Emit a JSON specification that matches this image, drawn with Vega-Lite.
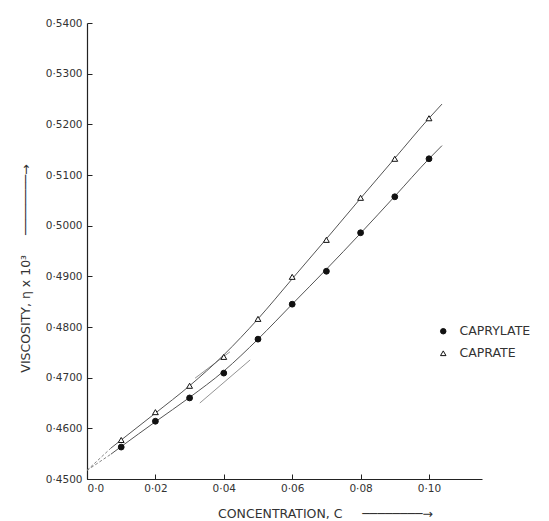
{
  "$schema": "https://vega.github.io/schema/vega-lite/v6.json",
  "width": 395,
  "height": 456,
  "autosize": "none",
  "padding": {"left": 87, "top": 23, "right": 67, "bottom": 42},
  "background": "white",
  "config": {
    "view": {"stroke": null},
    "font": "DejaVu Sans",
    "axis": {
      "grid": false,
      "domainColor": "#222",
      "domainWidth": 1.2,
      "tickColor": "#222",
      "labelColor": "#333",
      "titleColor": "#333",
      "labelFont": "DejaVu Sans",
      "titleFont": "DejaVu Sans",
      "labelFontSize": 10.5,
      "titleFontSize": 12.5,
      "titleFontWeight": "normal"
    }
  },
  "datasets": {
    "points": [
      {"series": "CAPRATE", "c": 0.01, "v": 0.4577},
      {"series": "CAPRATE", "c": 0.02, "v": 0.4632},
      {"series": "CAPRATE", "c": 0.03, "v": 0.4684},
      {"series": "CAPRATE", "c": 0.04, "v": 0.4741},
      {"series": "CAPRATE", "c": 0.05, "v": 0.4816},
      {"series": "CAPRATE", "c": 0.06, "v": 0.4899},
      {"series": "CAPRATE", "c": 0.07, "v": 0.4972},
      {"series": "CAPRATE", "c": 0.08, "v": 0.5055},
      {"series": "CAPRATE", "c": 0.09, "v": 0.5132},
      {"series": "CAPRATE", "c": 0.10, "v": 0.5212},
      {"series": "CAPRYLATE", "c": 0.01, "v": 0.4563},
      {"series": "CAPRYLATE", "c": 0.02, "v": 0.4614},
      {"series": "CAPRYLATE", "c": 0.03, "v": 0.4660},
      {"series": "CAPRYLATE", "c": 0.04, "v": 0.4709},
      {"series": "CAPRYLATE", "c": 0.05, "v": 0.4776},
      {"series": "CAPRYLATE", "c": 0.06, "v": 0.4845},
      {"series": "CAPRYLATE", "c": 0.07, "v": 0.4910},
      {"series": "CAPRYLATE", "c": 0.08, "v": 0.4986},
      {"series": "CAPRYLATE", "c": 0.09, "v": 0.5057},
      {"series": "CAPRYLATE", "c": 0.10, "v": 0.5132}
    ],
    "curves": [
      {"series": "CAPRATE", "c": 0.007, "v": 0.4561},
      {"series": "CAPRATE", "c": 0.01, "v": 0.4577},
      {"series": "CAPRATE", "c": 0.02, "v": 0.4630},
      {"series": "CAPRATE", "c": 0.03, "v": 0.4684},
      {"series": "CAPRATE", "c": 0.04, "v": 0.4745},
      {"series": "CAPRATE", "c": 0.05, "v": 0.4816},
      {"series": "CAPRATE", "c": 0.06, "v": 0.4895},
      {"series": "CAPRATE", "c": 0.07, "v": 0.4974},
      {"series": "CAPRATE", "c": 0.08, "v": 0.5054},
      {"series": "CAPRATE", "c": 0.09, "v": 0.5133},
      {"series": "CAPRATE", "c": 0.10, "v": 0.5212},
      {"series": "CAPRATE", "c": 0.1038, "v": 0.5240},
      {"series": "CAPRYLATE", "c": 0.007, "v": 0.4549},
      {"series": "CAPRYLATE", "c": 0.01, "v": 0.4564},
      {"series": "CAPRYLATE", "c": 0.02, "v": 0.4613},
      {"series": "CAPRYLATE", "c": 0.03, "v": 0.4661},
      {"series": "CAPRYLATE", "c": 0.04, "v": 0.4713},
      {"series": "CAPRYLATE", "c": 0.05, "v": 0.4776},
      {"series": "CAPRYLATE", "c": 0.06, "v": 0.4845},
      {"series": "CAPRYLATE", "c": 0.07, "v": 0.4914},
      {"series": "CAPRYLATE", "c": 0.08, "v": 0.4985},
      {"series": "CAPRYLATE", "c": 0.09, "v": 0.5058},
      {"series": "CAPRYLATE", "c": 0.10, "v": 0.5132},
      {"series": "CAPRYLATE", "c": 0.1038, "v": 0.5158}
    ],
    "dashed": [
      {"series": "CAPRATE", "c": 0.0, "v": 0.4517},
      {"series": "CAPRATE", "c": 0.007, "v": 0.4561},
      {"series": "CAPRYLATE", "c": 0.0, "v": 0.4517},
      {"series": "CAPRYLATE", "c": 0.007, "v": 0.4549}
    ],
    "tangents": [
      {"id": "t1", "c": 0.033, "v": 0.4650},
      {"id": "t1", "c": 0.0477, "v": 0.4735},
      {"id": "t2", "c": 0.0316, "v": 0.4699},
      {"id": "t2", "c": 0.0418, "v": 0.4751}
    ]
  },
  "encoding": {
    "x": {
      "field": "c",
      "type": "quantitative",
      "scale": {"domain": [0, 0.1155], "nice": false, "zero": false},
      "axis": {
        "values": [0, 0.02, 0.04, 0.06, 0.08, 0.10],
        "labelExpr": "datum.value == 0 ? '0·0' : '0·' + substring(format(datum.value, '.2f'), 2)",
        "tickSize": -5,
        "labelPadding": 9,
        "title": "CONCENTRATION, C\u00a0\u00a0\u00a0\u00a0\u00a0────────→",
        "titleX": 238,
        "titleY": 34,
        "titleAlign": "center",
        "titleBaseline": "middle"
      }
    },
    "y": {
      "field": "v",
      "type": "quantitative",
      "scale": {"domain": [0.45, 0.54], "nice": false, "zero": false},
      "axis": {
        "values": [0.45, 0.46, 0.47, 0.48, 0.49, 0.50, 0.51, 0.52, 0.53, 0.54],
        "labelExpr": "'0·' + substring(format(datum.value, '.4f'), 2)",
        "tickSize": -5,
        "labelPadding": 10,
        "title": "VISCOSITY, η x 10³\u00a0\u00a0\u00a0\u00a0\u00a0────────→",
        "titleX": -62,
        "titleY": 245,
        "titleAlign": "center",
        "titleBaseline": "middle",
        "titleAngle": -90
      }
    }
  },
  "layer": [
    {
      "data": {"name": "tangents"},
      "mark": {"type": "line", "color": "#777", "strokeWidth": 0.8},
      "encoding": {"detail": {"field": "id"}}
    },
    {
      "data": {"name": "dashed"},
      "mark": {"type": "line", "color": "#777", "strokeWidth": 0.9, "strokeDash": [3, 2]},
      "encoding": {"detail": {"field": "series"}}
    },
    {
      "data": {"name": "curves"},
      "mark": {"type": "line", "interpolate": "monotone", "color": "#555", "strokeWidth": 1},
      "encoding": {"detail": {"field": "series"}}
    },
    {
      "data": {"name": "points"},
      "mark": {"type": "point", "strokeWidth": 1, "size": 34, "opacity": 1},
      "encoding": {
        "shape": {
          "field": "series",
          "type": "nominal",
          "scale": {"domain": ["CAPRYLATE", "CAPRATE"], "range": ["circle", "triangle-up"]},
          "legend": {"orient": "none", "legendX": 350, "legendY": 302, "title": null, "labelFontSize": 12.5, "labelColor": "#333", "labelFont": "DejaVu Sans", "labelOffset": 10, "symbolSize": 30, "rowPadding": 9, "symbolStrokeWidth": 1}
        },
        "fill": {
          "field": "series",
          "type": "nominal",
          "scale": {"domain": ["CAPRYLATE", "CAPRATE"], "range": ["#111", "white"]},
          "legend": {"orient": "none", "legendX": 350, "legendY": 302, "title": null, "labelFontSize": 12.5, "labelColor": "#333", "labelFont": "DejaVu Sans", "labelOffset": 10, "symbolSize": 30, "rowPadding": 9, "symbolStrokeWidth": 1}
        },
        "stroke": {
          "field": "series",
          "type": "nominal",
          "scale": {"domain": ["CAPRYLATE", "CAPRATE"], "range": ["#111", "#111"]},
          "legend": {"orient": "none", "legendX": 350, "legendY": 302, "title": null, "labelFontSize": 12.5, "labelColor": "#333", "labelFont": "DejaVu Sans", "labelOffset": 10, "symbolSize": 30, "rowPadding": 9, "symbolStrokeWidth": 1}
        }
      }
    }
  ]
}
